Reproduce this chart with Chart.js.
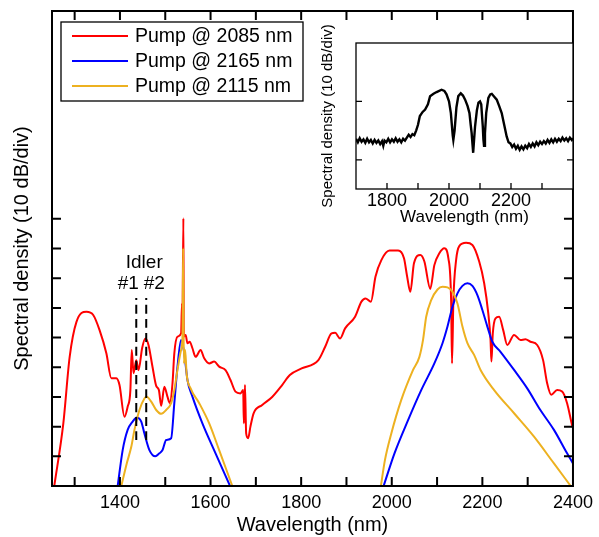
<!DOCTYPE html>
<html>
<head>
<meta charset="utf-8">
<script src="https://cdn.jsdelivr.net/npm/chart.js@4.4.0/dist/chart.umd.min.js"></script>
<style>
  html, body { margin: 0; padding: 0; background: #fff; }
  #wrap { position: relative; width: 599px; height: 537px; }
  #mainChart { position: absolute; left: 0; top: 0; width: 599px; height: 537px; }
  #insetChart { position: absolute; left: 310px; top: 15px; width: 266px; height: 220px; }
</style>
</head>
<body>
<div id="wrap">
  <canvas id="mainChart" width="599" height="537"></canvas>
  <canvas id="insetChart" width="266" height="220"></canvas>
</div>
<script>
// main plot: wavelength (nm) vs spectral density (divisions of 10 dB)
var xLabels = [1400, 1600, 1800, 2000, 2200, 2400];
var xMarks = [1300, 1400, 1500, 1600, 1700, 1800, 1900, 2000, 2100, 2200, 2300];
var yMarks = [1, 2, 3, 4, 5, 6, 7, 8, 9];

var redNm = [1255, 1275, 1289, 1304, 1326, 1341, 1355, 1370, 1381, 1392, 1399, 1410, 1417, 1423, 1426, 1430, 1436, 1441, 1449, 1456, 1463, 1472, 1480, 1486, 1491, 1498, 1505, 1510, 1516, 1520, 1527, 1535, 1537, 1538, 1540, 1541, 1545, 1549, 1554, 1560, 1567, 1578, 1586, 1597, 1608, 1619, 1633, 1644, 1655, 1666, 1672, 1673.5, 1676, 1678.6, 1683, 1688, 1695, 1714, 1736, 1758, 1775, 1801, 1838, 1853, 1867, 1875, 1886, 1897, 1919, 1933, 1942, 1954, 1964, 1977, 1995, 2014, 2027, 2034, 2041, 2049, 2063, 2072, 2085, 2094, 2105, 2116, 2125, 2131, 2133, 2136, 2142, 2149, 2164, 2178, 2193, 2204, 2213, 2218, 2220, 2223, 2229, 2237, 2246, 2255, 2270, 2284, 2295, 2306, 2321, 2334, 2343, 2352, 2365, 2376, 2387, 2398, 2400];
var redDb = [0, 2.11, 4.35, 5.53, 5.87, 5.76, 5.25, 4.47, 3.63, 3.63, 3.40, 2.33, 2.67, 3.23, 4.58, 3.8, 4.24, 3.9, 4.65, 4.97, 4.75, 4.0, 3.37, 3.23, 2.70, 3.34, 3.0, 2.8, 3.46, 4.47, 5.03, 5.14, 6.15, 5.59, 9.02, 5.03, 5.09, 4.81, 4.86, 4.64, 4.35, 4.58, 4.30, 4.13, 4.19, 4.02, 3.9, 3.57, 3.18, 3.12, 3.23, 2.11, 3.4, 1.77, 1.61, 2.0, 2.45, 2.73, 3.0, 3.4, 3.74, 3.96, 4.24, 4.69, 5.14, 5.16, 4.97, 5.31, 5.70, 6.21, 6.32, 6.21, 7.05, 7.61, 7.93, 7.93, 7.67, 7.05, 6.54, 7.5, 7.78, 7.56, 6.64, 7.44, 7.84, 8.01, 7.67, 6.26, 4.13, 6.26, 7.61, 8.08, 8.19, 8.12, 7.56, 6.83, 5.82, 4.92, 4.19, 5.14, 5.65, 5.70, 5.25, 4.75, 5.09, 4.92, 4.94, 4.86, 4.75, 4.24, 3.46, 3.07, 3.23, 3.18, 2.79, 2.05, 1.95];

var blueNm = [1395, 1406, 1417, 1428, 1437, 1447, 1454, 1465, 1478, 1487, 1494, 1502, 1513, 1520, 1527, 1535, 1542, 1549, 1560, 1582, 1611, 1643, 1800, 1982, 2006, 2036, 2065, 2094, 2112, 2123, 2134, 2145, 2156, 2167, 2178, 2189, 2200, 2211, 2222, 2240, 2270, 2299, 2328, 2358, 2387, 2400];
var blueDb = [0, 1.21, 1.89, 2.17, 2.31, 2.17, 1.77, 1.21, 1.0, 1.10, 1.21, 1.55, 1.61, 2.79, 4.02, 4.92, 4.47, 3.57, 3.01, 2.11, 1.10, 0, null, 0, 1.10, 2.22, 3.23, 4.13, 4.81, 5.37, 6.04, 6.49, 6.74, 6.83, 6.74, 6.43, 5.93, 5.37, 4.86, 4.52, 3.91, 3.29, 2.56, 1.89, 1.10, 0.76];

var yellowNm = [1403, 1415, 1425, 1432, 1443, 1454, 1459, 1469, 1480, 1491, 1502, 1513, 1520, 1527, 1535, 1538, 1539.6, 1541, 1544, 1547, 1556, 1575, 1597, 1619, 1648, 1800, 1976, 1985, 1999, 2021, 2047, 2061, 2069, 2076, 2087, 2101, 2112, 2123, 2134, 2145, 2156, 2167, 2182, 2196, 2226, 2270, 2314, 2358, 2395];
var yellowDb = [0, 0.76, 1.32, 1.89, 2.56, 2.95, 3.01, 2.84, 2.56, 2.43, 2.56, 2.79, 3.23, 3.91, 4.58, 5.03, 8.01, 4.13, 4.58, 3.80, 3.29, 2.79, 2.11, 1.21, 0, null, 0, 0.88, 1.77, 2.9, 3.91, 4.35, 4.92, 5.70, 6.26, 6.62, 6.71, 6.69, 6.54, 6.15, 5.37, 4.81, 4.41, 3.91, 3.23, 2.45, 1.66, 0.76, 0];

// idler markers (dashed lines)
var idlerNm = [1436, 1458];
var idlerNames = ['#1', '#2'];
var idlerRange = [1.55, 6.33];

// inset: wavelength (nm) vs spectral density (divisions)
var insetLabels = [1800, 2000, 2200];
var insetXMarks = [1800, 1900, 2000, 2100, 2200, 2300];
var insetYMarks = [0.5, 1.5];
var insetNm = [1700, 1706, 1712, 1718, 1724, 1730, 1736, 1742, 1748, 1754, 1760, 1766, 1772, 1778, 1784, 1788, 1792, 1798, 1804, 1810, 1816, 1822, 1828, 1834, 1840, 1846, 1852, 1858, 1864, 1870, 1876, 1882, 1888, 1894, 1900, 1906, 1915, 1923, 1932, 1939, 1950, 1960, 1976, 1985, 1992, 2000, 2006, 2012, 2014, 2018, 2024, 2030, 2038, 2045, 2052, 2060, 2066, 2070, 2073, 2076, 2078, 2081, 2084, 2090, 2095, 2100, 2104, 2109, 2111, 2113, 2116, 2120, 2127, 2133, 2138, 2146, 2154, 2162, 2170, 2178, 2186, 2192, 2198, 2204, 2210, 2216, 2222, 2228, 2234, 2240, 2246, 2252, 2258, 2264, 2270, 2276, 2282, 2288, 2294, 2300, 2306, 2312, 2318, 2324, 2330, 2336, 2342, 2348, 2354, 2360, 2366, 2372, 2378, 2384, 2390, 2396, 2400];
var insetDb = [0.86, 0.80, 0.87, 0.81, 0.85, 0.79, 0.86, 0.80, 0.84, 0.78, 0.84, 0.79, 0.83, 0.77, 0.82, 0.74, 0.83, 0.80, 0.86, 0.80, 0.85, 0.81, 0.87, 0.81, 0.85, 0.80, 0.86, 0.83, 0.88, 0.93, 0.89, 0.94, 0.92, 1.00, 1.10, 1.25, 1.32, 1.36, 1.45, 1.59, 1.63, 1.66, 1.70, 1.68, 1.62, 1.50, 1.30, 0.92, 0.84, 1.00, 1.40, 1.59, 1.64, 1.60, 1.53, 1.42, 1.30, 1.10, 0.96, 0.75, 0.62, 0.85, 1.07, 1.35, 1.48, 1.50, 1.45, 1.07, 0.85, 0.74, 0.95, 1.30, 1.56, 1.62, 1.63, 1.58, 1.53, 1.42, 1.30, 1.10, 0.90, 0.80, 0.78, 0.72, 0.76, 0.69, 0.74, 0.67, 0.73, 0.68, 0.74, 0.70, 0.77, 0.72, 0.78, 0.73, 0.80, 0.75, 0.81, 0.77, 0.82, 0.78, 0.84, 0.79, 0.85, 0.80, 0.86, 0.81, 0.86, 0.82, 0.88, 0.83, 0.87, 0.82, 0.88, 0.84, 0.87];

var FONT = '"Liberation Sans", Arial, sans-serif';
Chart.defaults.font.family = FONT;
Chart.defaults.color = '#000';

function pts(xs, ys) {
    return xs.map(function (v, i) { return { x: v, y: ys[i] }; });
}

var datasets = [
    { label: 'Pump @ 2085 nm', data: pts(redNm, redDb), borderColor: '#ff0000', order: 3 },
    { label: 'Pump @ 2165 nm', data: pts(blueNm, blueDb), borderColor: '#0000ff', order: 2 },
    { label: 'Pump @ 2115 nm', data: pts(yellowNm, yellowDb), borderColor: '#edb120', order: 1 }
];
idlerNm.forEach(function (v, i) {
    datasets.push({
        label: 'Idler ' + idlerNames[i],
        idler: true,
        data: pts([v, v], idlerRange),
        borderColor: '#000',
        borderDash: [9, 5],
        order: 0
    });
});

var mainDecor = {
    id: 'mainDecor',
    afterDraw: function (chart) {
        var ctx = chart.ctx, a = chart.chartArea;
        var x = chart.scales.x, y = chart.scales.y;
        ctx.save();
        ctx.strokeStyle = '#000';
        ctx.lineWidth = 2;
        ctx.strokeRect(a.left, a.top, a.right - a.left, a.bottom - a.top);
        ctx.beginPath();
        xMarks.forEach(function (v) {
            var px = x.getPixelForValue(v);
            ctx.moveTo(px, a.bottom); ctx.lineTo(px, a.bottom - 9);
            ctx.moveTo(px, a.top); ctx.lineTo(px, a.top + 9);
        });
        yMarks.forEach(function (v) {
            var py = y.getPixelForValue(v);
            ctx.moveTo(a.left, py); ctx.lineTo(a.left + 9, py);
            ctx.moveTo(a.right, py); ctx.lineTo(a.right - 9, py);
        });
        ctx.stroke();

        // legend box in the top left corner
        ctx.fillStyle = '#fff';
        ctx.fillRect(61, 22, 242, 79);
        ctx.lineWidth = 1.3;
        ctx.strokeRect(61, 22, 242, 79);
        ctx.font = '19.5px ' + FONT;
        ctx.textBaseline = 'middle';
        ctx.textAlign = 'left';
        var row = 0;
        chart.data.datasets.forEach(function (ds) {
            if (ds.idler) return;
            var ly = 36 + row * 25;
            ctx.strokeStyle = ds.borderColor;
            ctx.lineWidth = 2;
            ctx.beginPath();
            ctx.moveTo(72, ly); ctx.lineTo(128, ly);
            ctx.stroke();
            ctx.fillStyle = '#000';
            ctx.fillText(ds.label, 135, ly + 1);
            row++;
        });

        // idler annotation
        var p1 = x.getPixelForValue(idlerNm[0]);
        var p2 = x.getPixelForValue(idlerNm[1]);
        var top = y.getPixelForValue(idlerRange[1]);
        ctx.font = '19px ' + FONT;
        ctx.textAlign = 'center';
        ctx.fillText('Idler', (p1 + p2) / 2 + 3, top - 35);
        ctx.fillText(idlerNames[0], p1 - 8, top - 14);
        ctx.fillText(idlerNames[1], p2 + 8, top - 14);
        ctx.restore();
    }
};

new Chart(document.getElementById('mainChart').getContext('2d'), {
    type: 'line',
    data: { datasets: datasets },
    options: {
        responsive: false,
        animation: false,
        layout: { padding: { left: 0, top: 11, right: 23, bottom: 0 } },
        elements: {
            line: { borderWidth: 2, cubicInterpolationMode: 'monotone', fill: false },
            point: { radius: 0 }
        },
        plugins: { legend: { display: false }, tooltip: { enabled: false } },
        scales: {
            x: {
                type: 'linear', min: 1250, max: 2400,
                afterBuildTicks: function (s) { s.ticks = xLabels.map(function (v) { return { value: v }; }); },
                ticks: { font: { size: 18 }, color: '#000', padding: 6, maxRotation: 0, autoSkip: false,
                    callback: function (v) { return String(v); } },
                grid: { display: false, drawTicks: false },
                border: { display: false },
                title: { display: true, text: 'Wavelength (nm)', font: { size: 20 }, color: '#000', padding: { top: 0, bottom: 0 } },
                afterFit: function (s) { s.height = 51; }
            },
            y: {
                min: 0, max: 16,
                ticks: { display: false },
                grid: { display: false, drawTicks: false },
                border: { display: false },
                title: { display: true, text: 'Spectral density (10 dB/div)', font: { size: 20 }, color: '#000', padding: { top: 10, bottom: 0 } },
                afterFit: function (s) { s.width = 52; }
            }
        }
    },
    plugins: [mainDecor]
});

var insetDecor = {
    id: 'insetDecor',
    beforeDraw: function (chart) {
        var ctx = chart.ctx, a = chart.chartArea;
        ctx.save();
        ctx.fillStyle = '#fff';
        ctx.fillRect(a.left, a.top, a.right - a.left, a.bottom - a.top);
        ctx.restore();
    },
    afterDraw: function (chart) {
        var ctx = chart.ctx, a = chart.chartArea;
        var x = chart.scales.x, y = chart.scales.y;
        ctx.save();
        ctx.strokeStyle = '#000';
        ctx.lineWidth = 1.3;
        ctx.strokeRect(a.left, a.top, a.right - a.left, a.bottom - a.top);
        ctx.beginPath();
        insetXMarks.forEach(function (v) {
            var px = x.getPixelForValue(v);
            ctx.moveTo(px, a.bottom); ctx.lineTo(px, a.bottom - 6);
        });
        insetYMarks.forEach(function (v) {
            var py = y.getPixelForValue(v);
            ctx.moveTo(a.left, py); ctx.lineTo(a.left + 6, py);
            ctx.moveTo(a.right, py); ctx.lineTo(a.right - 6, py);
        });
        ctx.stroke();
        ctx.restore();
    }
};

new Chart(document.getElementById('insetChart').getContext('2d'), {
    type: 'line',
    data: { datasets: [{ label: 'inset', data: pts(insetNm, insetDb), borderColor: '#000', borderWidth: 2.4 }] },
    options: {
        responsive: false,
        animation: false,
        layout: { padding: { left: 0, top: 28, right: 3, bottom: 0 } },
        elements: { point: { radius: 0 }, line: { tension: 0 } },
        plugins: { legend: { display: false }, tooltip: { enabled: false } },
        scales: {
            x: {
                type: 'linear', min: 1700, max: 2400,
                afterBuildTicks: function (s) { s.ticks = insetLabels.map(function (v) { return { value: v }; }); },
                ticks: { font: { size: 18 }, color: '#000', padding: 1, maxRotation: 0, autoSkip: false,
                    callback: function (v) { return String(v); } },
                grid: { display: false, drawTicks: false },
                border: { display: false },
                title: { display: true, text: 'Wavelength (nm)', font: { size: 17 }, color: '#000', padding: { top: 0, bottom: 7 } },
                afterFit: function (s) { s.height = 46; }
            },
            y: {
                min: 0, max: 2.5,
                ticks: { display: false },
                grid: { display: false, drawTicks: false },
                border: { display: false },
                title: { display: true, text: 'Spectral density (10 dB/div)', font: { size: 15 }, color: '#000', padding: { top: 9, bottom: 0 } },
                afterFit: function (s) { s.width = 46; }
            }
        }
    },
    plugins: [insetDecor]
});
</script>
</body>
</html>
